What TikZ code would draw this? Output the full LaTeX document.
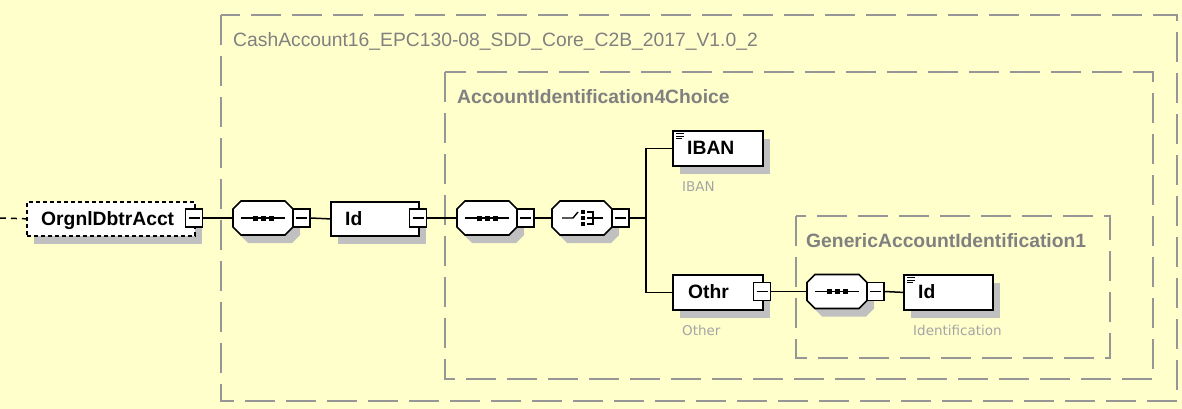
\documentclass[tikz,border=0pt]{standalone}
\usepackage{fontspec}
\setmainfont{Liberation Sans}
\newfontfamily\smallfont{DejaVu Sans}
\usetikzlibrary{shadows}
\definecolor{bgyellow}{RGB}{255,255,204}
\definecolor{grpgray}{RGB}{150,150,150}
\definecolor{shadowgray}{RGB}{192,192,192}
\definecolor{lblgray}{RGB}{128,128,128}
\definecolor{sublblgray}{RGB}{165,165,165}
\newcommand\minusat[2]{%
  \node[minusnode] (#1) at (#2) {};
  \draw[line width=1.2pt] ([xshift=-5.5pt]#1.center) -- ([xshift=5.5pt]#1.center);}
\newcommand\octagonat[3]{% name, left x, top y
  \fill[shadowgray] (#2+15,#3+8) -- (#2+59,#3+8) -- (#2+67,#3+16) -- (#2+67,#3+34) -- (#2+59,#3+42) -- (#2+15,#3+42) -- (#2+7,#3+34) -- (#2+7,#3+16) -- cycle;
  \draw[octline] (#2+8,#3) -- (#2+52,#3) -- (#2+60,#3+8) -- (#2+60,#3+26) -- (#2+52,#3+34) -- (#2+8,#3+34) -- (#2,#3+26) -- (#2,#3+8) -- cycle;
  \node[inner sep=0pt, outer sep=0pt, minimum width=60pt, minimum height=34pt, anchor=north west] (#1) at (#2,#3) {};}
\newcommand\seqicon[1]{%
  \draw[line width=1.4pt] ([xshift=-22pt]#1.center) -- ([xshift=22pt]#1.center);
  \foreach \dx in {-8,0,8}{\fill ([shift={(\dx-2.5,-2.5)}]#1.center) rectangle ++(5,5);}}
\newcommand\leaficon[1]{%
  \foreach \dy/\len in {3.5/8,6.2/8,8.9/6}{\draw[line width=1.1pt] ([shift={(4,\dy)}]#1.north west) -- ++(\len,0);}}
\begin{document}
\begin{tikzpicture}[x=1pt,y=-1pt,
  grpbox/.style={draw=grpgray, line width=2.3pt, dash pattern=on 30pt off 11pt},
  grplabel/.style={anchor=base west, inner sep=0pt, text=lblgray},
  grpfont/.style={font=\fontsize{19.3}{23}\selectfont},
  grpfontb/.style={font=\bfseries\fontsize{19.3}{23}\selectfont},
  elembox/.style={draw=black, line width=1.8pt, fill=white, rectangle, inner sep=0pt,
    anchor=north west, minimum height=35pt,
    drop shadow={shadow xshift=7pt, shadow yshift=-8pt, fill=shadowgray, opacity=1}},
  eltext/.style={anchor=base west, inner sep=0pt, font=\bfseries\fontsize{19.3}{23}\selectfont},
  sublabel/.style={anchor=base west, inner sep=0pt, text=sublblgray, font=\smallfont\fontsize{13.5}{16}\selectfont},
  minusnode/.style={draw=black, line width=1.3pt, fill=white, rectangle, inner sep=0pt, minimum width=17pt, minimum height=18pt},
  octline/.style={draw=black, line width=1.6pt, fill=white},
  conn/.style={draw=black, line width=1.5pt}
]
\fill[bgyellow] (0,0) rectangle (1182,409);
\useasboundingbox (0,0) rectangle (1182,409);

% group boxes
\draw[grpbox] (221,15) rectangle (1177,401);
\node[grplabel, grpfont] (lbl-cash) at (233,47) {CashAccount16\_EPC130-08\_SDD\_Core\_C2B\_2017\_V1.0\_2};
\draw[grpbox] (445,72) rectangle (1153,379);
\node[grplabel, grpfontb] (lbl-acctid) at (457,104) {AccountIdentification4Choice};
\draw[grpbox] (796,216) rectangle (1110,358);
\node[grplabel, grpfontb] (lbl-generic) at (806,247) {GenericAccountIdentification1};

% OrgnlDbtrAcct
\node[elembox, draw=black, dash pattern=on 4pt off 3pt, line width=1.6pt, minimum width=168pt, minimum height=34pt] (orgnl) at (26,201) {};
\node[eltext] (orgnl-t) at (41,225) {OrgnlDbtrAcct};
\minusat{orgnl-m}{194,218}

% sequence 1
\octagonat{seq1}{233}{201}
\seqicon{seq1}
\minusat{seq1-m}{301.5,218}

% Id 1
\node[elembox, minimum width=88pt, minimum height=34pt] (id1) at (330,201) {};
\node[eltext] (id1-t) at (345,225) {Id};
\minusat{id1-m}{418,218}

% sequence 2
\octagonat{seq2}{457}{201}
\seqicon{seq2}
\minusat{seq2-m}{525.5,218}

% choice
\octagonat{choice}{552}{201}
\draw[line width=1.4pt] ([xshift=-20pt]choice.center) -- ++(11,0) -- ++(5,-6);
\foreach \dy in {-6,0,6}{\fill ([shift={(-1,\dy-2)}]choice.center) rectangle ++(4,4);}
\draw[line width=1.4pt] ([shift={(5,-6)}]choice.center) -- ++(6,0) -- ++(0,12) -- ++(-6,0);
\draw[line width=1.4pt] ([xshift=5pt]choice.center) -- ++(16,0);
\minusat{choice-m}{620.5,218}
\coordinate (junc) at (646,218);

% IBAN
\node[elembox, minimum width=90pt] (iban) at (672,130) {};
\leaficon{iban}
\node[eltext] (iban-t) at (687,154.4) {IBAN};
\node[sublabel] (iban-l) at (682,191) {IBAN};

% Othr
\node[elembox, minimum width=90pt] (othr) at (672,274) {};
\node[eltext] (othr-t) at (688,298.4) {Othr};
\minusat{othr-m}{762,291.5}
\node[sublabel] (othr-l) at (682,335) {Other};

% sequence 3
\octagonat{seq3}{807}{274.5}
\seqicon{seq3}
\minusat{seq3-m}{875.5,291.5}

% Id 2
\node[elembox, minimum width=89pt] (id2) at (903,274) {};
\leaficon{id2}
\node[eltext] (id2-t) at (918,298.4) {Id};
\node[sublabel] (id2-l) at (913,335) {Identification};

% connectors
\coordinate (stub) at (0,218);
\draw[conn, dash pattern=on 6pt off 5pt] (stub) -- (orgnl.west);
\draw[conn] (orgnl-m.east) -- (seq1.west);
\draw[conn] (seq1-m.east) -- (id1.west);
\draw[conn] (id1-m.east) -- (seq2.west);
\draw[conn] (seq2-m.east) -- (choice.west);
\draw[conn] (choice-m.east) -- (junc);
\draw[conn] (iban.west) -| (junc) |- (othr.west);
\draw[conn] (othr-m.east) -- (seq3.west);
\draw[conn] (seq3-m.east) -- (id2.west);
\end{tikzpicture}
\end{document}
